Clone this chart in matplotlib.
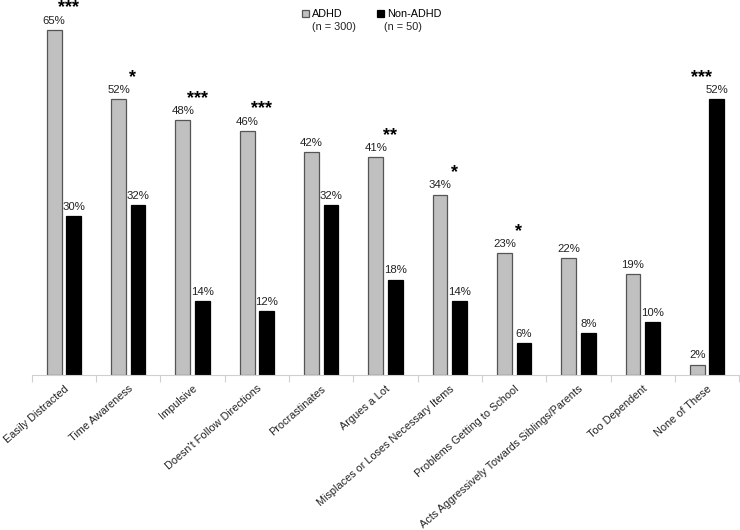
import matplotlib.pyplot as plt
import numpy as np

plt.rcParams['font.family'] = ['Liberation Sans', 'DejaVu Sans']

# Datos
categorias = ['Easily Distracted', 'Time Awareness', 'Impulsive',
              "Doesn't Follow Directions", 'Procrastinates', 'Argues a Lot',
              'Misplaces or Loses Necessary Items', 'Problems Getting to School',
              'Acts Aggressively Towards Siblings/Parents', 'Too Dependent',
              'None of These']
adhd = [65, 52, 48, 46, 42, 41, 34, 23, 22, 19, 2]
no_adhd = [30, 32, 14, 12, 32, 18, 14, 6, 8, 10, 52]
estrellas = ['***', '*', '***', '***', '', '**', '*', '*', '', '', '***']

x = np.arange(len(categorias))
ancho = 0.23
desp = 0.152

fig = plt.figure(figsize=(7.4, 5.3), dpi=100)
ax = fig.add_axes([0.043, 0.292, 0.956, 0.702])

b1 = ax.bar(x - desp, adhd, ancho, color='#c0c0c0', edgecolor='#555555', linewidth=0.9)
b2 = ax.bar(x + desp, no_adhd, ancho, color='black', edgecolor='black', linewidth=0.9)

# Etiquetas de porcentaje
for xi, v in zip(x - desp, adhd):
    ax.annotate(f'{v}%', (xi, v), xytext=(0, 3), textcoords='offset points',
                ha='center', va='bottom', fontsize=8.2, color='#222222')
for xi, v in zip(x + desp, no_adhd):
    ax.annotate(f'{v}%', (xi, v), xytext=(0, 3), textcoords='offset points',
                ha='center', va='bottom', fontsize=8.2, color='#222222')

# Significancia
for xi, a, n, s in zip(x, adhd, no_adhd, estrellas):
    if not s:
        continue
    top = max(a, n)
    dx = 0.07 if a >= n else -0.08
    ax.annotate(s, (xi + dx, top), xytext=(0, 9.5), textcoords='offset points',
                ha='center', va='bottom', fontsize=13, fontweight='bold',
                annotation_clip=False)

ax.set_xlim(-0.5, len(categorias) - 0.5)
ax.set_ylim(0, 70)

# Ejes
for lado in ['left', 'right', 'top']:
    ax.spines[lado].set_visible(False)
ax.spines['bottom'].set_color('#d0d0d0')
ax.set_yticks([])
ax.set_xticks(np.arange(len(categorias) + 1) - 0.5)
ax.set_xticklabels([])
ax.tick_params(axis='x', which='major', length=5, color='#d0d0d0')
ax.set_xticks(x, minor=True)
ax.set_xticklabels(categorias, minor=True, rotation=41, ha='right',
                   rotation_mode='anchor', fontsize=7.8, color='#222222')
ax.tick_params(axis='x', which='minor', length=0, pad=6)

# Leyenda
leg = ax.legend([b1, b2], ['ADHD', 'Non-ADHD'], loc='upper left',
                bbox_to_anchor=(0.376, 0.995), ncol=2, frameon=False,
                fontsize=7.8, handlelength=0.6, handleheight=0.6,
                handletextpad=0.3, columnspacing=3.2, borderaxespad=0)
ax.text(0.3965, 0.95, '(n = 300)', transform=ax.transAxes, fontsize=7.8,
        color='#222222', va='top')
ax.text(0.4985, 0.95, '(n = 50)', transform=ax.transAxes, fontsize=7.8,
        color='#222222', va='top')

plt.savefig('out.png', dpi=100)
